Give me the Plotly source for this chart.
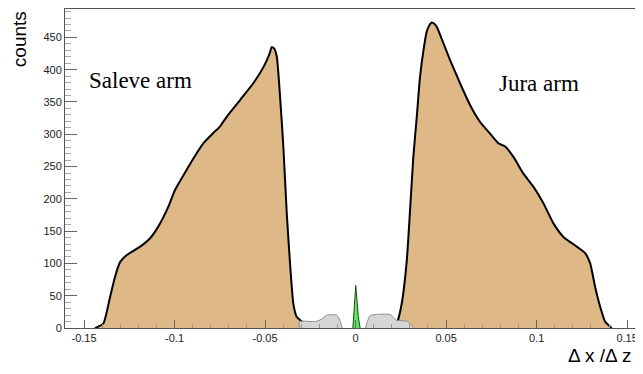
import plotly.graph_objects as go

# ---------------- data ----------------
saleve_x = [-0.1440, -0.1430, -0.1393, -0.1356, -0.1329, -0.1301, -0.1264, -0.1190, -0.1135,
            -0.1090, -0.1034, -0.0997, -0.0933, -0.0877, -0.0841, -0.0786, -0.0749, -0.0712,
            -0.0638, -0.0565, -0.0509, -0.0475, -0.0463, -0.0450, -0.0435, -0.0417, -0.0399,
            -0.0380, -0.0362, -0.0344, -0.0325, -0.0297, -0.0285]
saleve_y = [0, 1, 7, 48, 79, 102, 113, 126, 139,
            157, 188, 214, 245, 271, 286, 302, 312, 327,
            353, 379, 404, 425, 435, 433, 420, 358, 281,
            177, 100, 38, 17, 10, 0]

jura_x = [0.0215, 0.0228, 0.0255, 0.0283, 0.0301, 0.0319, 0.0338, 0.0356, 0.0375, 0.0393,
          0.0410, 0.0421, 0.0435, 0.0449, 0.0485, 0.0522, 0.0577, 0.0633, 0.0688, 0.0743,
          0.0789, 0.0826, 0.0872, 0.0927, 0.0982, 0.1038, 0.1093, 0.1148, 0.1222, 0.1268,
          0.1296, 0.1323, 0.1351, 0.1378, 0.1406, 0.1415]
jura_y = [0, 7, 38, 105, 183, 265, 327, 389, 430, 459,
          470, 473, 471, 466, 441, 415, 379, 345, 319, 301,
          286, 281, 265, 239, 219, 193, 162, 141, 126, 116,
          100, 64, 33, 10, 2, 0]

gray_left_x = [-0.0310, -0.0310, -0.0220, -0.0185, -0.0160, -0.0105, -0.0090, -0.0078, -0.0075]
gray_left_y = [0, 10, 10, 14, 20, 20, 14, 4, 0]
gray_right_x = [0.0055, 0.0065, 0.0080, 0.0115, 0.0190, 0.0215, 0.0225, 0.0290, 0.0310, 0.0320]
gray_right_y = [0, 10, 19, 21, 21, 15, 12, 10, 4, 0]

green_x = [-0.0015, -0.0010, -0.0003, 0.0001, 0.0008, 0.0015, 0.0025]
green_y = [0, 20, 55, 66, 42, 18, 0]

xtick_vals = [-0.15, -0.1, -0.05, 0, 0.05, 0.1, 0.15]
xtick_text = ["-0.15", "-0.1", "-0.05", "0", "0.05", "0.1", "0.15"]
ytick_vals = [0, 50, 100, 150, 200, 250, 300, 350, 400, 450]

labels = ["Saleve arm", "Jura arm"]
label_x = [-0.1485, 0.0780]
label_y = [384, 378]

# ---------------- figure ----------------
fig = go.Figure()

tan = "#DEB887"
for ax, ay in [(saleve_x, saleve_y), (jura_x, jura_y)]:
    fig.add_trace(go.Scatter(x=ax, y=ay, mode="lines", fill="tozeroy",
                             fillcolor=tan,
                             line=dict(color="black", width=2, shape="spline", smoothing=0.5),
                             showlegend=False, hoverinfo="skip"))
for gx, gy in [(gray_left_x, gray_left_y), (gray_right_x, gray_right_y)]:
    fig.add_trace(go.Scatter(x=gx, y=gy, mode="lines", fill="tozeroy",
                             fillcolor="#D6D6D6",
                             line=dict(color="#8C8C8C", width=1, shape="spline", smoothing=0.5),
                             showlegend=False, hoverinfo="skip"))
fig.add_trace(go.Scatter(x=green_x, y=green_y, mode="lines", fill="tozeroy",
                         fillcolor="#5CE65C", line=dict(color="#1E4A1E", width=1),
                         showlegend=False, hoverinfo="skip"))

axis_font = dict(family="Liberation Sans, Arial, sans-serif", size=11, color="#222")

fig.update_xaxes(range=[-0.1605, 0.156], showgrid=False, zeroline=False, automargin=False,
                 showline=True, linecolor="#555", linewidth=1, mirror=True,
                 tickmode="array", tickvals=xtick_vals, ticktext=xtick_text,
                 ticks="inside", ticklen=8, tickcolor="#666", tickwidth=1,
                 tickfont=axis_font,
                 minor=dict(ticks="inside", ticklen=4, dtick=0.01, tick0=0,
                            tickcolor="#999", tickwidth=1))
fig.update_yaxes(range=[0, 494], showgrid=False, zeroline=False, automargin=False,
                 showline=True, linecolor="#555", linewidth=1, mirror=True,
                 tickmode="array", tickvals=ytick_vals,
                 ticks="inside", ticklen=12, tickcolor="#666", tickwidth=1,
                 tickfont=axis_font,
                 minor=dict(ticks="inside", ticklen=6, dtick=10, tick0=0,
                            tickcolor="#AAA", tickwidth=1))

for t, x, y in zip(labels, label_x, label_y):
    fig.add_annotation(x=x, y=y, xref="x", yref="y", text=t, showarrow=False,
                       xanchor="left", yanchor="middle",
                       font=dict(family="Liberation Serif, Times New Roman, serif",
                                 size=23, color="black"))

fig.add_annotation(x=-0.08, y=1.0, xref="paper", yref="paper", text="counts",
                   textangle=-90, showarrow=False, xanchor="center", yanchor="top",
                   font=dict(family="Liberation Sans, Arial, sans-serif", size=19, color="black"))
fig.add_annotation(x=0.992, y=-0.085, xref="paper", yref="paper", text="Δ x /Δ z",
                   showarrow=False, xanchor="right", yanchor="middle",
                   font=dict(family="Liberation Sans, Arial, sans-serif", size=19, color="black"))

# the page body has an 8px margin, so the figure is made 8px smaller on each axis
fig.update_layout(width=635, height=366, autosize=False,
                  margin=dict(l=57, r=5, t=1, b=46),
                  paper_bgcolor="white", plot_bgcolor="white")

fig.write_html("out.html")
